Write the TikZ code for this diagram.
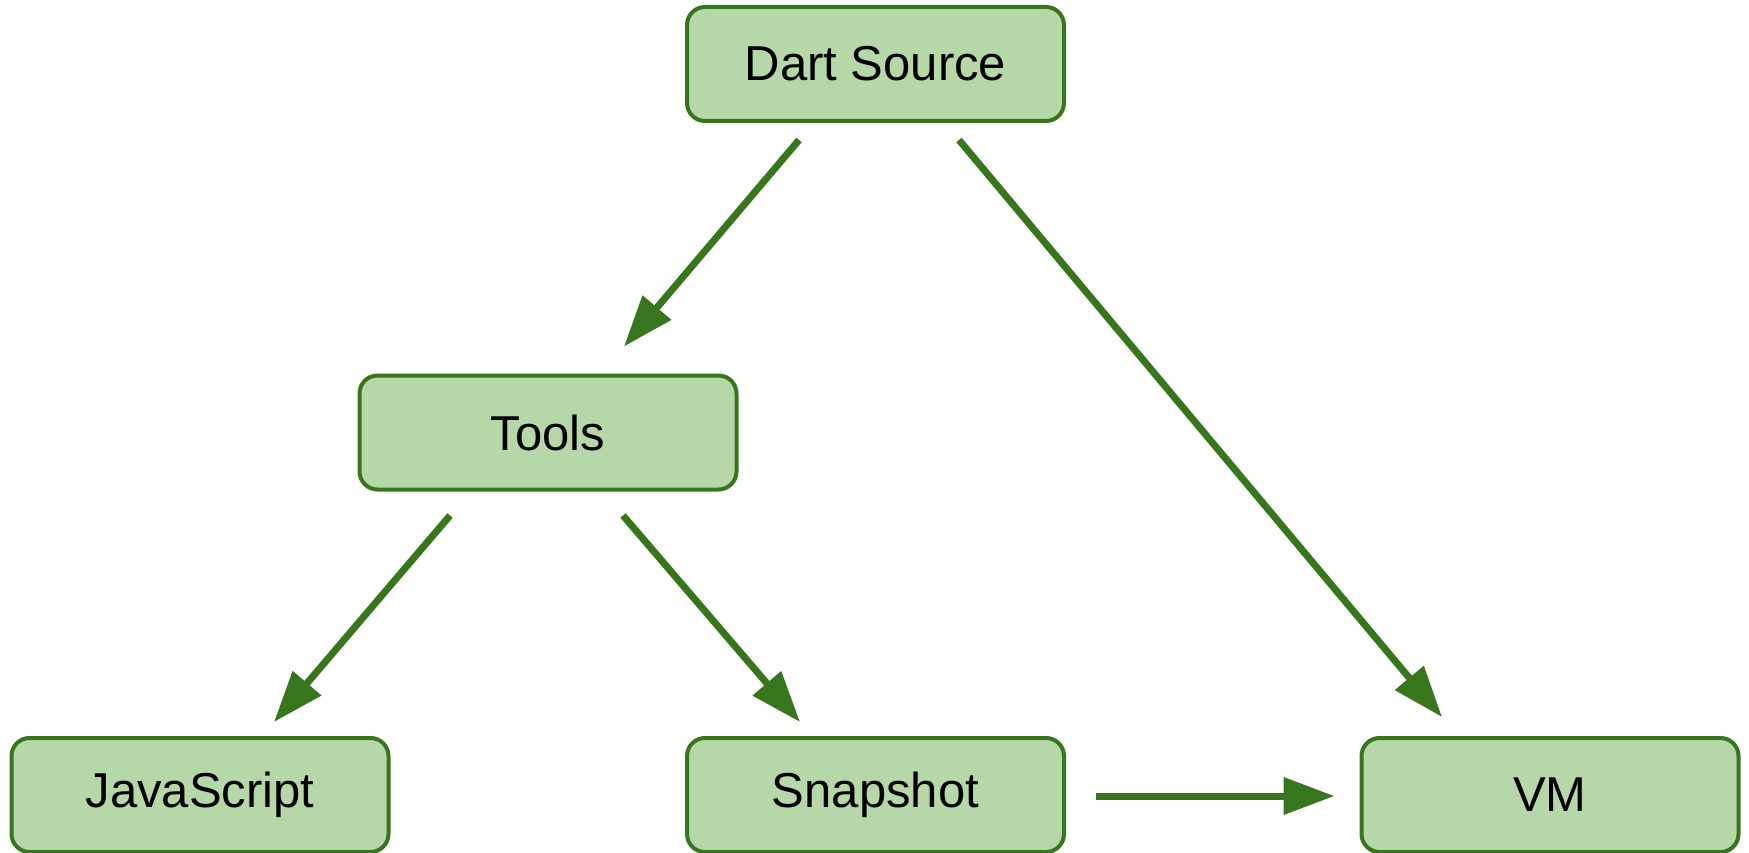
\documentclass[tikz,border=0pt]{standalone}
\usepackage{fontspec}
\setmainfont{Liberation Sans}
\usetikzlibrary{arrows.meta}
\definecolor{boxfill}{HTML}{B6D7A8}
\definecolor{boxline}{HTML}{38761D}
\tikzset{
  box/.style={draw=boxline, fill=boxfill, line width=4pt, rounded corners=18pt,
    minimum width=377pt, minimum height=114pt, inner sep=0pt,
    font=\fontsize{49}{59}\selectfont, text=black},
  arr/.style={draw=boxline, line width=7pt, -{Triangle[length=51pt,width=36pt]}}
}
\begin{document}
\begin{tikzpicture}[x=1pt,y=-1pt]
\useasboundingbox (0,0) rectangle (1749,853);
\node[box] (dart) at (875.5,64) {Dart Source};
\node[box] (tools) at (548,432.5) {Tools};
\node[box] (js) at (200,795) {JavaScript};
\node[box] (snap) at (875.5,795) {Snapshot};
\node[box] (vm) at (1550,795) {VM};
\draw[arr] ([shift={(-76.5,17)}]dart.south) -- ([shift={(76,-27)}]tools.north);
\draw[arr] ([shift={(83.5,17)}]dart.south) -- ([shift={(-108,-19)}]vm.north);
\draw[arr] ([shift={(-98,24)}]tools.south) -- ([shift={(74,-14)}]js.north);
\draw[arr] ([shift={(75,24)}]tools.south) -- ([shift={(-75.5,-14)}]snap.north);
\draw[arr] ([shift={(30,1)}]snap.east) -- ([shift={(-25,1)}]vm.west);
\end{tikzpicture}
\end{document}
